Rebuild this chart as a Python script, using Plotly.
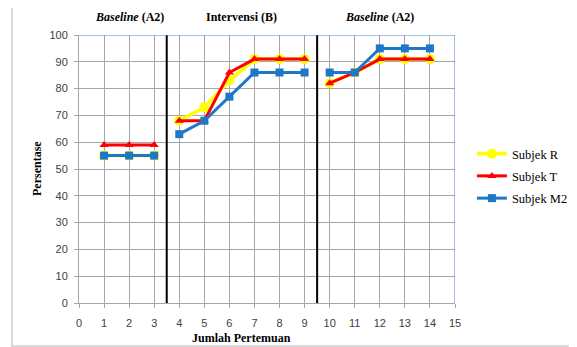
import plotly.graph_objects as go

sessions_a1 = [1, 2, 3]
sessions_b = [4, 5, 6, 7, 8, 9]
sessions_a2 = [10, 11, 12, 13, 14]

r_a1 = [55, 55, 55]
r_b = [68, 73, 83, 91, 91, 91]
r_a2 = [82, 86, 91, 91, 91]

t_a1 = [59, 59, 59]
t_b = [68, 68, 86, 91, 91, 91]
t_a2 = [82, 86, 91, 91, 91]

m_a1 = [55, 55, 55]
m_b = [63, 68, 77, 86, 86, 86]
m_a2 = [86, 86, 95, 95, 95]

phase_lines = [3.5, 9.5]
phase_labels = [(2, "<i>Baseline</i> (A2)"), (6.5, "Intervensi (B)"), (12, "<i>Baseline</i> (A2)")]
x_ticks = list(range(0, 16))
y_ticks = list(range(0, 101, 10))

series = [
    ("Subjek R", "#FFFF00", "circle", 10, 3.5, [r_a1, r_b, r_a2]),
    ("Subjek T", "#FF0000", "triangle-up", 8, 3, [t_a1, t_b, t_a2]),
    ("Subjek M2", "#1F77C8", "square", 8, 3, [m_a1, m_b, m_a2]),
]

# page body has an 8px default margin; compensate so plot sits where the reference has it
OFF = 8
PW, PH = 376, 268

fig = go.Figure()
for name, color, sym, msize, lw, parts in series:
    xs, ys = [], []
    for sx, sy in zip([sessions_a1, sessions_b, sessions_a2], parts):
        xs += sx + [None]
        ys += sy + [None]
    fig.add_trace(go.Scatter(
        x=xs, y=ys, name=name, mode="lines+markers", legendgroup=name,
        line=dict(color=color, width=lw),
        marker=dict(color=color, symbol=sym, size=msize),
        connectgaps=False,
    ))

for xv in phase_lines:
    fig.add_shape(type="line", x0=xv, x1=xv, y0=0, y1=100, xref="x", yref="y",
                  line=dict(color="black", width=2))

# plot border (top/right bluish)
fig.add_shape(type="line", x0=0, x1=15, y0=100, y1=100, xref="x", yref="y",
              line=dict(color="#4F81BD", width=1))
fig.add_shape(type="line", x0=15, x1=15, y0=0, y1=100, xref="x", yref="y",
              line=dict(color="#4F81BD", width=1))

# outer frame
fig.add_shape(type="rect", xref="paper", yref="paper",
              x0=-67/PW, x1=1.5, y0=-43/PH, y1=1 + 30/PH,
              line=dict(color="#D9D9D9", width=2), layer="below")

for xv, txt in phase_labels:
    fig.add_annotation(x=xv, y=1 + 18/PH, xref="x", yref="paper", text="<b>" + txt + "</b>",
                       showarrow=False, yanchor="middle",
                       font=dict(family="Liberation Serif", size=12, color="black"))

fig.add_annotation(x=6.5, y=-35/PH, xref="x", yref="paper", text="<b>Jumlah Pertemuan</b>",
                   showarrow=False, yanchor="middle", xanchor="center",
                   font=dict(family="Liberation Serif", size=12, color="black"))
fig.add_annotation(x=-42/PW, y=0.5, xref="paper", yref="paper", text="<b>Persentase</b>",
                   showarrow=False, textangle=-90, xanchor="center", yanchor="middle",
                   font=dict(family="Liberation Serif", size=12, color="black"))

fig.update_layout(
    width=577, height=347,
    margin=dict(l=79 - OFF, r=577 - 455 + OFF, t=35 - OFF, b=347 - 303 + OFF, autoexpand=False),
    paper_bgcolor="white", plot_bgcolor="white",
    showlegend=True,
    legend=dict(x=1.045, y=1 - (176 - 35) / PH, xanchor="left", yanchor="middle",
                font=dict(family="Liberation Serif", size=12.5, color="black"),
                bgcolor="rgba(0,0,0,0)", itemwidth=30, tracegroupgap=3),
)
fig.update_xaxes(range=[0, 15], tickvals=x_ticks, showgrid=True, gridcolor="#A6A6A6", gridwidth=1,
                 showline=True, linecolor="#A6A6A6", ticks="outside", ticklen=4, tickcolor="#A6A6A6",
                 zeroline=False, automargin=False, ticklabelstandoff=6,
                 tickfont=dict(family="Liberation Sans", size=11, color="#404040"))
fig.update_yaxes(range=[0, 100], tickvals=y_ticks, showgrid=True, gridcolor="#A6A6A6", gridwidth=1,
                 showline=True, linecolor="#A6A6A6", ticks="outside", ticklen=4, tickcolor="#A6A6A6",
                 zeroline=False, automargin=False, ticklabelstandoff=4,
                 tickfont=dict(family="Liberation Sans", size=11, color="#404040"))

fig.write_html("out.html")
